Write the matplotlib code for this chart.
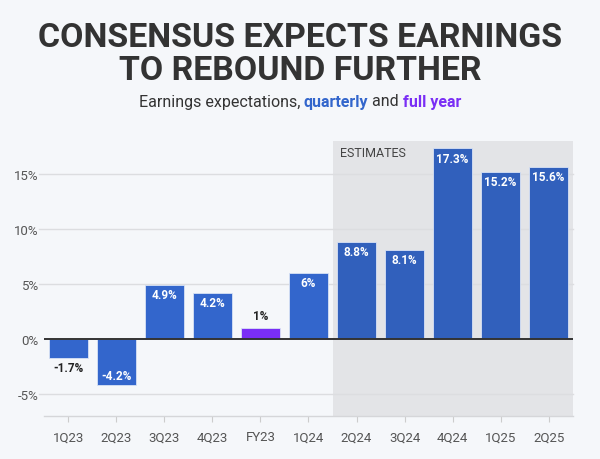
import matplotlib
matplotlib.use("Agg")
import matplotlib.pyplot as plt
from matplotlib import font_manager as fm

categories = ["1Q23", "2Q23", "3Q23", "4Q23", "FY23", "1Q24", "2Q24", "3Q24", "4Q24", "1Q25", "2Q25"]
values = [-1.7, -4.2, 4.9, 4.2, 1.0, 6.0, 8.8, 8.1, 17.3, 15.2, 15.6]
labels = ["-1.7%", "-4.2%", "4.9%", "4.2%", "1%", "6%", "8.8%", "8.1%", "17.3%", "15.2%", "15.6%"]
yticks = [-5, 0, 5, 10, 15]
ytick_labels = ["-5%", "0%", "5%", "10%", "15%"]
estimate_start = 6

names = {f.name for f in fm.fontManager.ttflist}
title_font = "Liberation Sans Narrow" if "Liberation Sans Narrow" in names else "Roboto"
body_font = "Roboto" if "Roboto" in names else "DejaVu Sans"

BG = "#F5F7FA"
BLUE = "#3366CC"
BLUE_EST = "#3160BC"
PURPLE = "#7A2EF5"

fig = plt.figure(figsize=(6, 4.6), dpi=100, facecolor=BG)
ax = fig.add_axes([0.0738, 0.0928, 0.8807, 0.5992])
ax.set_facecolor(BG)

x = list(range(len(categories)))
ax.set_xlim(-0.5, len(categories) - 0.5)
ax.set_ylim(-7, 18)

# estimates shading
ax.axvspan(estimate_start - 0.5, len(categories) - 0.5, color="#E3E4E7", zorder=0, lw=0)
ax.text(estimate_start - 0.5 + 0.15, 16.95, "ESTIMATES", fontsize=9, color="#444444",
        family=body_font, va="center", ha="left", zorder=5)

for yt in yticks:
    if yt != 0:
        ax.axhline(yt, color="#DCDDE0", lw=1, zorder=1, xmin=-0.01, clip_on=False)

colors = []
for i, c in enumerate(categories):
    if c.startswith("FY"):
        colors.append(PURPLE)
    elif i >= estimate_start:
        colors.append(BLUE_EST)
    else:
        colors.append(BLUE)

bars = ax.bar(x, values, width=0.8, color=colors, edgecolor="#D8E2F5", linewidth=0.6, zorder=3)
ax.axhline(0, color="#333333", lw=1.4, zorder=4)

for i, (v, lab) in enumerate(zip(values, labels)):
    small = abs(v) < 2
    if small:
        if v >= 0:
            ax.annotate(lab, (i, v), xytext=(0, 9), textcoords="offset points", ha="center", va="center",
                        fontsize=8.5, fontweight="bold", color="#222222", family=body_font, zorder=5)
        else:
            ax.annotate(lab, (i, v), xytext=(0, -7), textcoords="offset points", ha="center", va="center",
                        fontsize=8.5, fontweight="bold", color="#222222", family=body_font, zorder=5)
    else:
        off = -7 if v > 0 else 7
        ax.annotate(lab, (i, v), xytext=(0, off), textcoords="offset points", ha="center", va="center",
                    fontsize=8.5, fontweight="bold", color="white", family=body_font, zorder=5)

ax.set_yticks(yticks)
ax.set_yticklabels(ytick_labels, fontsize=9.5, color="#555555", family=body_font)
ax.tick_params(axis="y", length=0, pad=4)
ax.set_xticks(x)
ax.set_xticklabels(categories, fontsize=9.5, color="#555555", family=body_font)
ax.tick_params(axis="x", length=4, color="#CCCCCC", pad=6)

for s in ["top", "right", "left"]:
    ax.spines[s].set_visible(False)
ax.spines["bottom"].set_color("#D5D6D9")
ax.spines["bottom"].set_linewidth(1)

# titles
fig.text(0.5, 1 - 38 / 460, "CONSENSUS EXPECTS EARNINGS", ha="center", va="center",
         fontsize=24.4, fontweight="bold", color="#333333", family=title_font)
fig.text(0.5, 1 - 71 / 460, "TO REBOUND FURTHER", ha="center", va="center",
         fontsize=24.4, fontweight="bold", color="#333333", family=title_font)

# subtitle with colored words
sub_y = 1 - 102 / 460
parts = [("Earnings expectations, ", "#333333", "normal"),
         ("quarterly", BLUE, "bold"),
         (" and ", "#333333", "normal"),
         ("full year", PURPLE, "bold")]
renderer = fig.canvas.get_renderer()
texts = []
widths = []
for s, col, w in parts:
    t = fig.text(0, sub_y, s, fontsize=11.5, color=col, fontweight=w, family=body_font, va="center", ha="left")
    bb = t.get_window_extent(renderer=renderer)
    texts.append(t)
    widths.append(bb.width)
total = sum(widths)
start = (600 - total) / 2
for t, w in zip(texts, widths):
    t.set_x(start / 600)
    start += w

fig.savefig("out.png", dpi=100, facecolor=BG)
